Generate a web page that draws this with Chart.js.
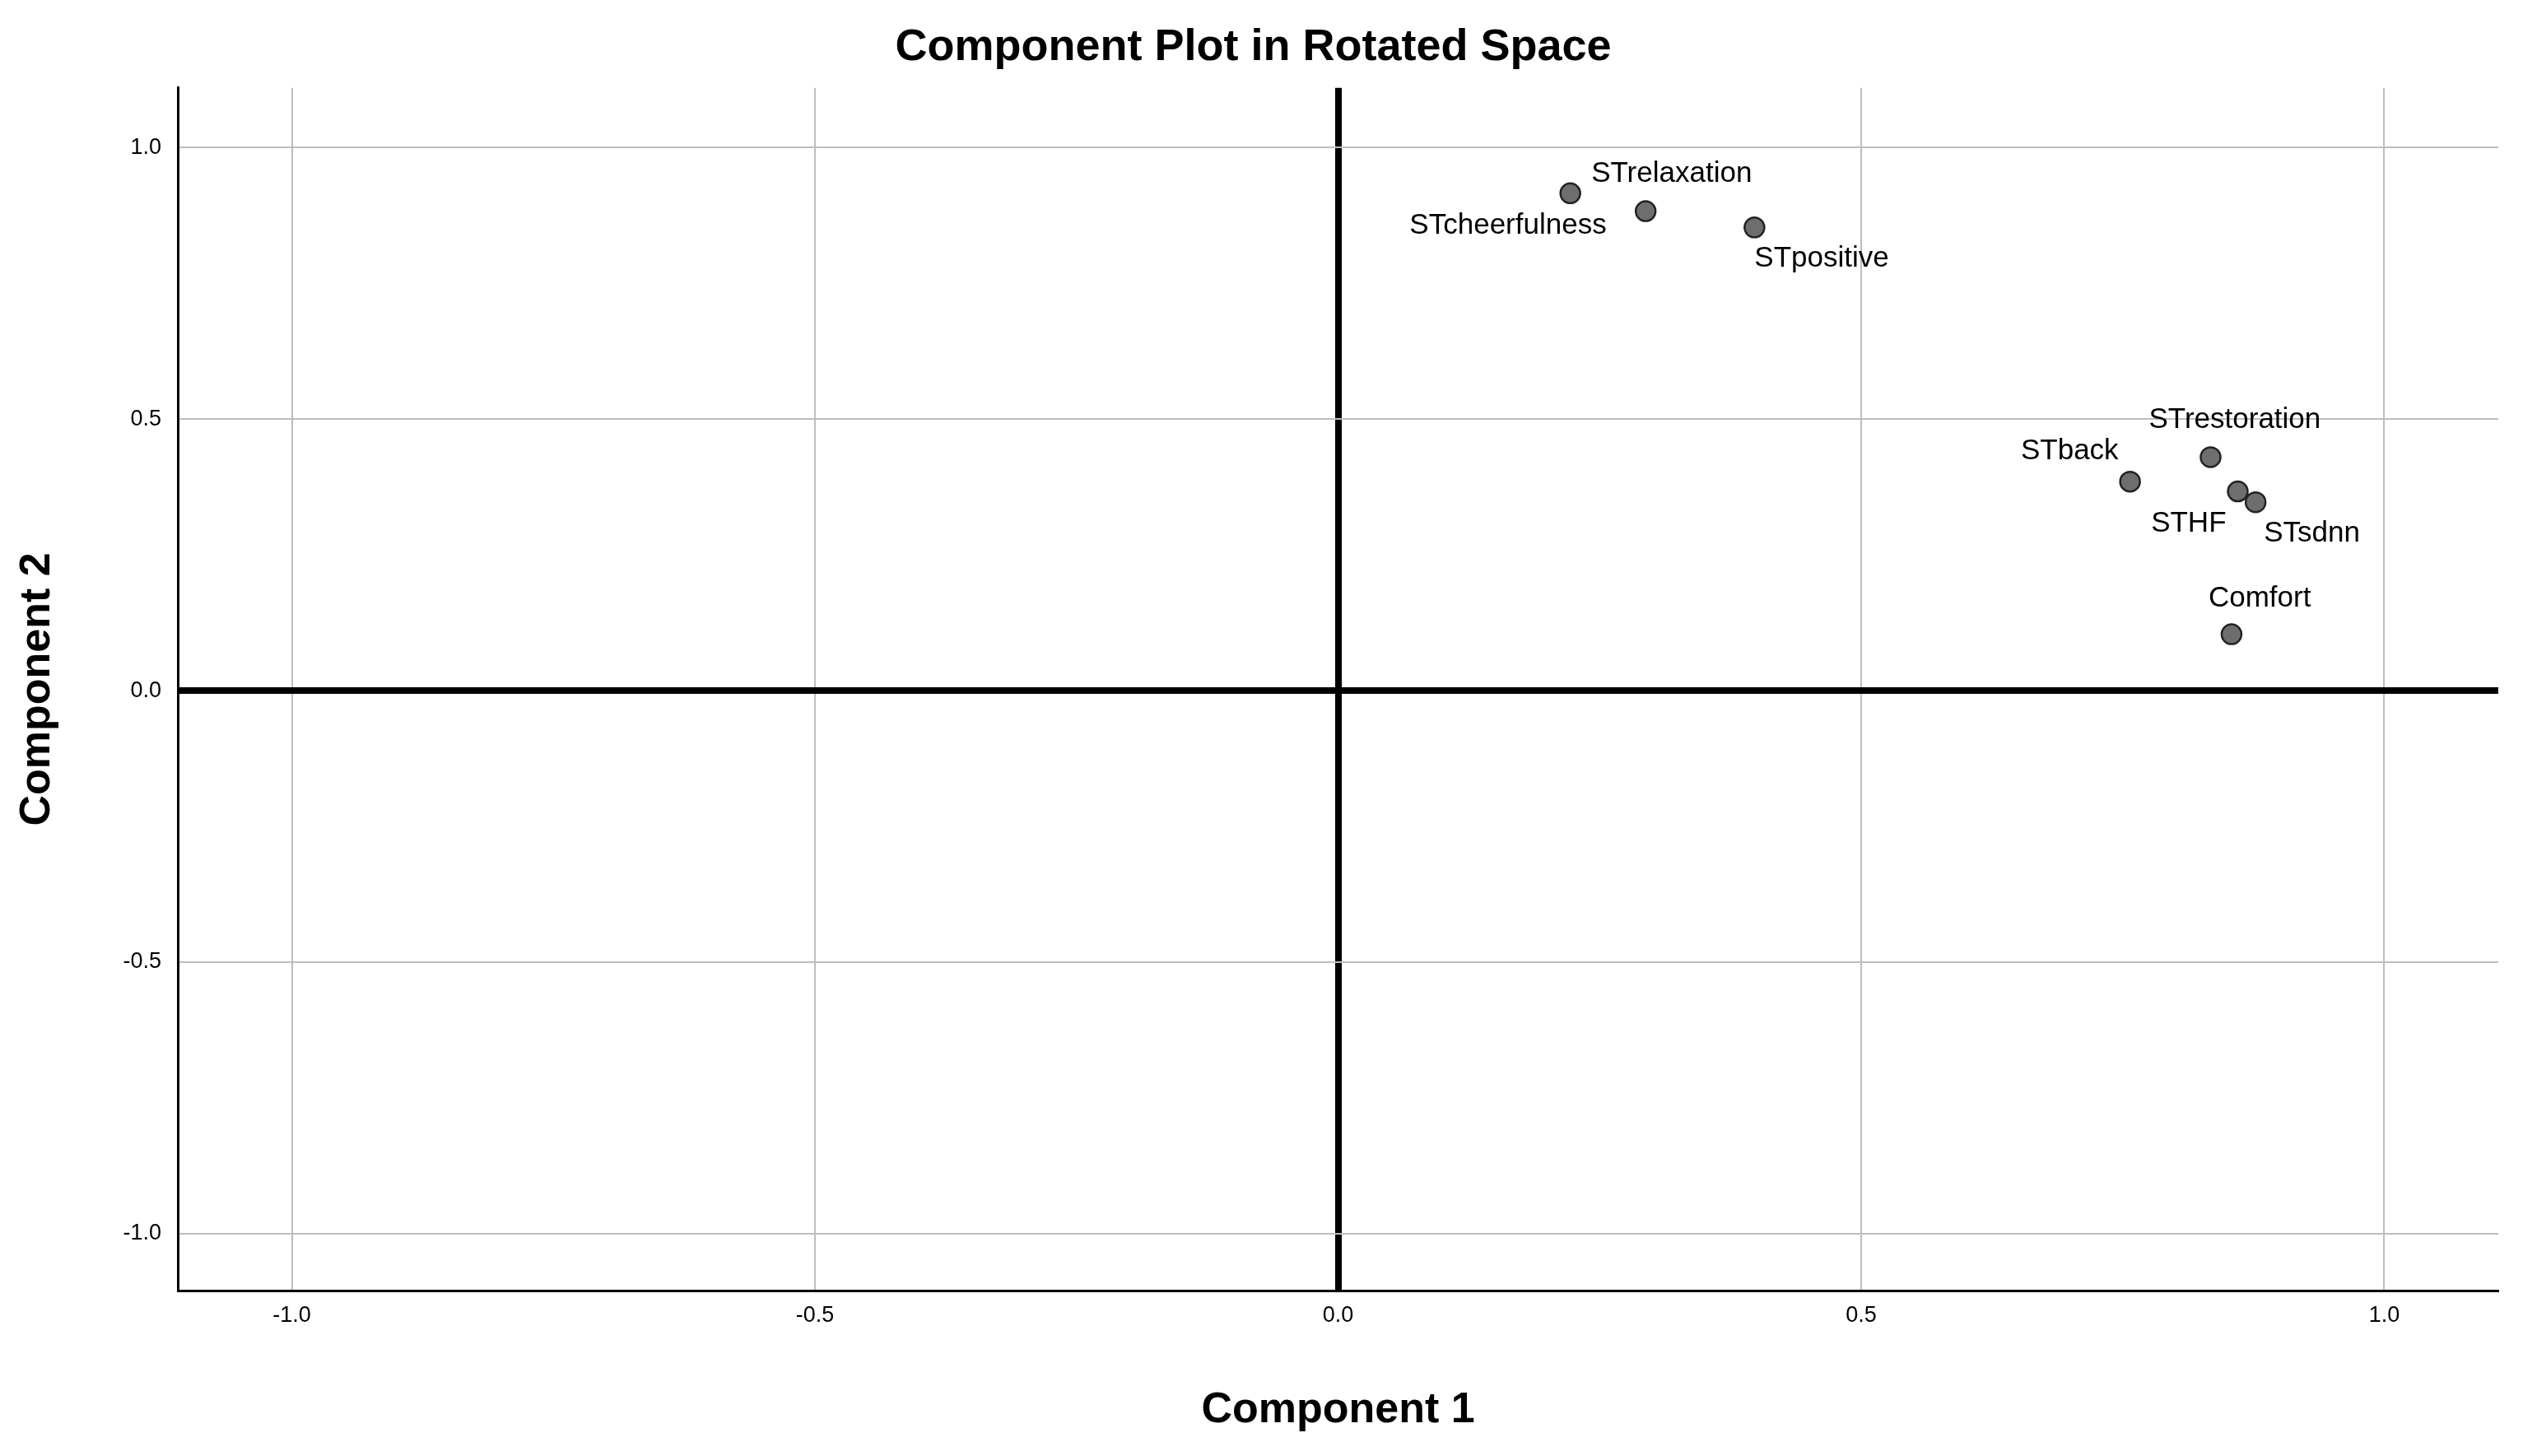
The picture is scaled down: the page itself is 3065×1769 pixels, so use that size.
<!DOCTYPE html>
<html>
<head>
<meta charset="utf-8">
<script src="https://cdn.jsdelivr.net/npm/chart.js@4.4.1/dist/chart.umd.min.js"></script>
<style>
  body { margin: 0; background: #fff; }
  #wrap { width: 3065px; height: 1769px; }
</style>
</head>
<body>
<div id="wrap"><canvas id="plot"></canvas></div>
<script>
const names = ["STcheerfulness", "STrelaxation", "STpositive", "STrestoration", "STback", "STHF", "STsdnn", "Comfort"];
const comp1 = [0.222, 0.294, 0.398, 0.834, 0.757, 0.860, 0.877, 0.854];
const comp2 = [0.916, 0.883, 0.853, 0.430, 0.385, 0.367, 0.347, 0.104];
const tickValues = [-1.0, -0.5, 0.0, 0.5, 1.0];

// label placement relative to each point: [dx, dy, align]
const labelPlace = [
  [44, 40, "right"], [-66, -45, "left"], [0, 38, "left"], [-75, -45, "left"],
  [-14, -37, "right"], [-14, 39, "right"], [10, 38, "left"], [-28, -43, "left"],
];

const pointLabels = {
  id: "pointLabels",
  afterDatasetsDraw(c) {
    const ctx = c.ctx;
    const meta = c.getDatasetMeta(0);
    ctx.save();
    ctx.font = "35px Arial, 'Liberation Sans', sans-serif";
    ctx.fillStyle = "#000";
    ctx.textBaseline = "middle";
    meta.data.forEach((pt, i) => {
      const [dx, dy, align] = labelPlace[i];
      ctx.textAlign = align;
      ctx.fillText(names[i], pt.x + dx, pt.y + dy);
    });
    ctx.restore();
  },
};

const gridColor = (ctx) => (ctx.tick && ctx.tick.value === 0 ? "#000" : "#bdbdbd");
const gridWidth = (ctx) => (ctx.tick && ctx.tick.value === 0 ? 8 : 2);

new Chart(document.getElementById("plot"), {
  type: "scatter",
  data: {
    datasets: [{
      data: comp1.map((x, i) => ({ x, y: comp2[i] })),
      pointRadius: 12,
      pointBackgroundColor: "#6e6e6e",
      pointBorderColor: "#222",
      pointBorderWidth: 2.5,
    }],
  },
  options: {
    responsive: true,
    maintainAspectRatio: false,
    animation: false,
    layout: { padding: { right: 30, left: 10, bottom: 20 } },
    plugins: {
      legend: { display: false },
      tooltip: { enabled: false },
      title: {
        display: true,
        text: "Component Plot in Rotated Space",
        color: "#000",
        font: { family: "Arial, 'Liberation Sans', sans-serif", size: 54, weight: "bold" },
        padding: { top: 26, bottom: 16 },
      },
    },
    scales: {
      x: {
        min: -1.109, max: 1.109,
        afterBuildTicks: (s) => { s.ticks = tickValues.map((v) => ({ value: v })); },
        ticks: { callback: (v) => Number(v).toFixed(1), color: "#000", padding: 14,
          font: { family: "Arial, 'Liberation Sans', sans-serif", size: 27 } },
        grid: { color: gridColor, lineWidth: gridWidth, drawTicks: false },
        border: { color: "#000", width: 3 },
        title: { display: true, text: "Component 1", color: "#000", padding: { top: 54 },
          font: { family: "Arial, 'Liberation Sans', sans-serif", size: 52, weight: "bold" } },
      },
      y: {
        min: -1.105, max: 1.11,
        afterBuildTicks: (s) => { s.ticks = tickValues.map((v) => ({ value: v })); },
        ticks: { callback: (v) => Number(v).toFixed(1), color: "#000", padding: 20,
          font: { family: "Arial, 'Liberation Sans', sans-serif", size: 27 } },
        grid: { color: gridColor, lineWidth: gridWidth, drawTicks: false },
        border: { color: "#000", width: 3 },
        title: { display: true, text: "Component 2", color: "#000", padding: { bottom: 40 },
          font: { family: "Arial, 'Liberation Sans', sans-serif", size: 52, weight: "bold" } },
        afterFit: (s) => { s.width = 206; },
      },
    },
  },
  plugins: [pointLabels],
});
</script>
</body>
</html>
